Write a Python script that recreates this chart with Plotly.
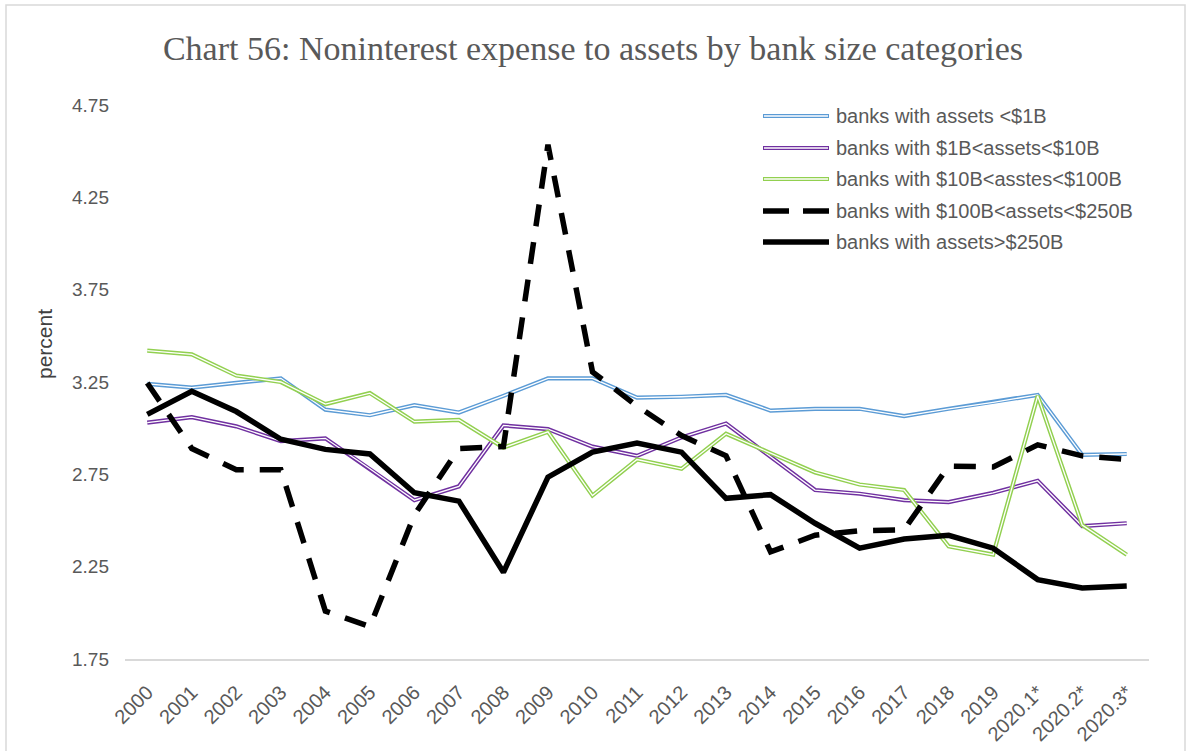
import plotly.graph_objects as go

# Categories (years, 2020 quarters marked with *)
periods = [str(y) for y in range(2000, 2020)] + ["2020.1*", "2020.2*", "2020.3*"]

# Noninterest expense to assets, percent
assets_lt_1b = [3.24, 3.22, 3.245, 3.27, 3.10, 3.07, 3.125, 3.085, 3.175, 3.27, 3.27, 3.165,
                3.17, 3.18, 3.095, 3.105, 3.105, 3.065, 3.105, 3.14, 3.18, 2.855, 2.86]
assets_1b_10b = [3.03, 3.06, 3.01, 2.93, 2.945, 2.78, 2.61, 2.685, 3.015, 2.995, 2.90, 2.85,
                 2.95, 3.025, 2.845, 2.665, 2.645, 2.61, 2.60, 2.65, 2.715, 2.47, 2.485]
assets_10b_100b = [3.42, 3.40, 3.285, 3.25, 3.13, 3.19, 3.035, 3.045, 2.895, 2.98, 2.635, 2.83,
                   2.78, 2.97, 2.865, 2.76, 2.695, 2.665, 2.36, 2.315, 3.175, 2.475, 2.315]
assets_100b_250b = [3.245, 2.89, 2.775, 2.775, 2.01, 1.925, 2.53, 2.89, 2.90, 4.535, 3.305, 3.12,
                    2.96, 2.85, 2.33, 2.42, 2.445, 2.45, 2.795, 2.79, 2.91, 2.85, 2.83]
assets_gt_250b = [3.075, 3.2, 3.09, 2.94, 2.885, 2.86, 2.65, 2.605, 2.22, 2.735, 2.87, 2.92,
                  2.87, 2.62, 2.64, 2.485, 2.35, 2.40, 2.42, 2.35, 2.18, 2.135, 2.145]

series_names = ["banks with assets <$1B", "banks with $1B<assets<$10B",
                "banks with $10B<asstes<$100B", "banks with $100B<assets<$250B",
                "banks with assets>$250B"]

BLUE, PURPLE, GREEN = "#5B9BD5", "#7030A0", "#92D050"
TEXT = "#595959"
SANS = "Liberation Sans, Arial"

W, H = 1186, 751
L, R, T, B = 125, 37, 105, 92
PW, PH = W - L - R, H - T - B

fig = go.Figure()

# Double (outlined) lines: thick coloured stroke with a thin white core
for name, vals, col in [(series_names[0], assets_lt_1b, BLUE),
                        (series_names[1], assets_1b_10b, PURPLE),
                        (series_names[2], assets_10b_100b, GREEN)]:
    fig.add_trace(go.Scatter(x=periods, y=vals, mode="lines", name=name,
                             line=dict(color=col, width=4.2), showlegend=False))
    fig.add_trace(go.Scatter(x=periods, y=vals, mode="lines", name=name,
                             line=dict(color="white", width=1.3), showlegend=False,
                             hoverinfo="skip"))

fig.add_trace(go.Scatter(x=periods, y=assets_100b_250b, mode="lines", name=series_names[3],
                         line=dict(color="black", width=5.5, dash="22px,16px"), showlegend=False))
fig.add_trace(go.Scatter(x=periods, y=assets_gt_250b, mode="lines", name=series_names[4],
                         line=dict(color="black", width=5.5), showlegend=False))


def px_x(px):
    return (px - L) / PW


def px_y(py):
    return (H - B - py) / PH


# Legend drawn as shapes + text
shapes = []
annotations = []
row_y = [116, 148, 179, 211, 242]
x0, x1, xt = 763, 829, 834
styles = [("double", BLUE), ("double", PURPLE), ("double", GREEN), ("dash", "black"), ("solid", "black")]
for (kind, col), yy, name in zip(styles, row_y, series_names):
    if kind == "double":
        shapes.append(dict(type="line", xref="paper", yref="paper", x0=px_x(x0), x1=px_x(x1),
                           y0=px_y(yy), y1=px_y(yy), line=dict(color=col, width=4.2)))
        shapes.append(dict(type="line", xref="paper", yref="paper", x0=px_x(x0 + 1), x1=px_x(x1 - 1),
                           y0=px_y(yy), y1=px_y(yy), line=dict(color="white", width=1.3)))
    elif kind == "dash":
        shapes.append(dict(type="line", xref="paper", yref="paper", x0=px_x(x0), x1=px_x(x1),
                           y0=px_y(yy), y1=px_y(yy),
                           line=dict(color=col, width=5.5, dash="26px,14px")))
    else:
        shapes.append(dict(type="line", xref="paper", yref="paper", x0=px_x(x0), x1=px_x(x1),
                           y0=px_y(yy), y1=px_y(yy), line=dict(color=col, width=5.5)))
    annotations.append(dict(xref="paper", yref="paper", x=px_x(xt), y=px_y(yy), text=name,
                            showarrow=False, xanchor="left", yanchor="middle",
                            font=dict(family=SANS, size=20, color=TEXT)))

# Chart border
shapes.append(dict(type="rect", xref="paper", yref="paper", x0=px_x(6), x1=px_x(W - 1),
                   y0=px_y(H + 5), y1=px_y(5), line=dict(color="#d9d9d9", width=1.5),
                   layer="below"))

# y-axis title
annotations.append(dict(xref="paper", yref="paper", x=px_x(44), y=px_y(344), text="percent",
                        showarrow=False, textangle=-90, xanchor="center", yanchor="middle",
                        font=dict(family=SANS, size=21, color="#404040")))

fig.update_layout(
    width=W, height=H,
    margin=dict(l=L, r=R, t=T, b=B, autoexpand=False),
    paper_bgcolor="white", plot_bgcolor="white",
    title=dict(text="Chart 56: Noninterest expense to assets by bank size categories",
               x=0.5, xref="container", xanchor="center", y=1 - 48 / H, yanchor="middle",
               font=dict(family="Liberation Serif, Times New Roman", size=34, color=TEXT)),
    shapes=shapes, annotations=annotations,
    showlegend=False,
)
fig.update_xaxes(type="category", range=[-0.5, len(periods) - 0.5], tickangle=-45,
                 showgrid=False, showline=True, linecolor="#d9d9d9", linewidth=1.5,
                 ticks="", ticklabelstandoff=12, automargin=False,
                 tickfont=dict(family=SANS, size=20, color=TEXT),
                 zeroline=False)
fig.update_yaxes(range=[1.75, 4.75], tickvals=[1.75, 2.25, 2.75, 3.25, 3.75, 4.25, 4.75],
                 ticktext=["1.75", "2.25", "2.75", "3.25", "3.75", "4.25", "4.75"],
                 showgrid=False, showline=False, zeroline=False, ticks="",
                 ticklabelstandoff=15, automargin=False,
                 tickfont=dict(family=SANS, size=19, color=TEXT))

fig.write_html("out.html")
